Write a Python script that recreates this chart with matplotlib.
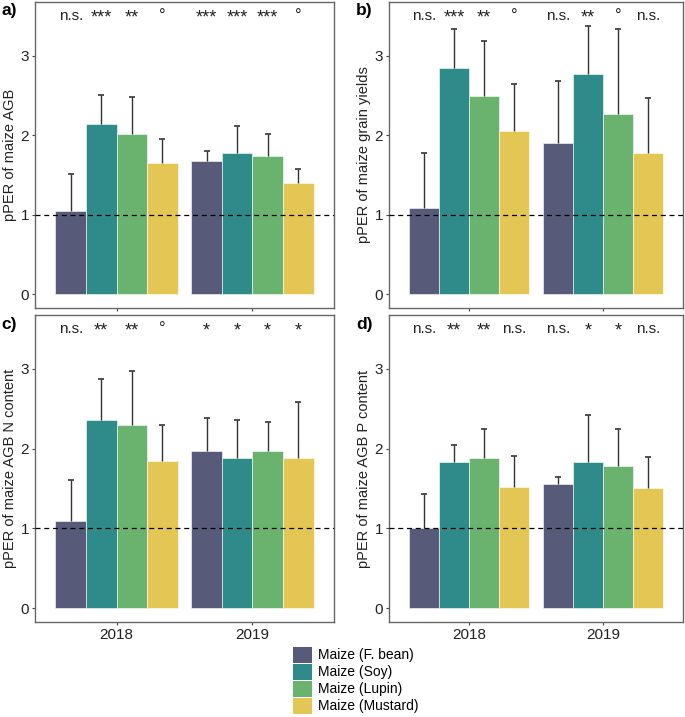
import matplotlib
matplotlib.use("Agg")
import matplotlib.pyplot as plt
from matplotlib.patches import Patch
import numpy as np

plt.rcParams['font.family'] = ['Liberation Sans', 'DejaVu Sans']

years = ["2018", "2019"]
treatments = ["Maize (F. bean)", "Maize (Soy)", "Maize (Lupin)", "Maize (Mustard)"]
colors = ['#575a78', '#2e8b8a', '#6ab36e', '#e3c653']

# mean values [treatment][year]
agb_mean = [[1.05, 1.67], [2.14, 1.77], [2.02, 1.74], [1.65, 1.40]]
agb_upper = [[1.51, 1.80], [2.50, 2.12], [2.48, 2.01], [1.95, 1.57]]
agb_sig = [["n.s.", "***"], ["***", "***"], ["**", "***"], ["°", "°"]]

grain_mean = [[1.08, 1.90], [2.85, 2.77], [2.49, 2.27], [2.05, 1.78]]
grain_upper = [[1.78, 2.68], [3.34, 3.37], [3.19, 3.33], [2.64, 2.47]]
grain_sig = [["n.s.", "n.s."], ["***", "**"], ["**", "°"], ["°", "n.s."]]

n_mean = [[1.09, 1.97], [2.36, 1.88], [2.30, 1.97], [1.85, 1.88]]
n_upper = [[1.60, 2.38], [2.87, 2.36], [2.97, 2.33], [2.30, 2.59]]
n_sig = [["n.s.", "*"], ["**", "*"], ["**", "*"], ["°", "*"]]

p_mean = [[1.00, 1.56], [1.83, 1.83], [1.88, 1.78], [1.52, 1.51]]
p_upper = [[1.43, 1.64], [2.05, 2.42], [2.24, 2.24], [1.91, 1.89]]
p_sig = [["n.s.", "n.s."], ["**", "*"], ["**", "*"], ["n.s.", "n.s."]]

panels = [
    ("a)", "pPER of maize AGB", agb_mean, agb_upper, agb_sig),
    ("b)", "pPER of maize grain yields", grain_mean, grain_upper, grain_sig),
    ("c)", "pPER of maize AGB N content", n_mean, n_upper, n_sig),
    ("d)", "pPER of maize AGB P content", p_mean, p_upper, p_sig),
]

W, H = 685, 717
fig = plt.figure(figsize=(W / 100, H / 100), dpi=100)

# axes boxes in pixels: (left, top, right, bottom)
boxes = [(35, 2, 334, 308), (389, 2, 683, 308), (35, 315, 334, 622), (389, 315, 683, 622)]
label_pos = [(1, 3), (356, 3), (1, 317), (356, 317)]

frame_col = '#666666'
bw = 0.225
for i, (lab, ylab, mean, upper, sig) in enumerate(panels):
    l, t, r, b = boxes[i]
    ax = fig.add_axes([l / W, 1 - b / H, (r - l) / W, (b - t) / H])
    xc = np.arange(1, len(years) + 1)
    for k in range(len(treatments)):
        xs = xc + (k - 1.5) * bw
        m = np.array(mean[k])
        u = np.array(upper[k])
        ax.bar(xs, m, width=bw, color=colors[k], edgecolor='#ffffff', linewidth=0.4, zorder=2)
        ax.vlines(xs, m, u, color='#333333', linewidth=1.0, zorder=3)
        ax.plot(xs, u, linestyle='none', marker='_', markersize=4, markeredgewidth=1.2,
                color='#333333', zorder=3)
        for j in range(len(years)):
            s = sig[k][j]
            if '*' in s:
                ax.text(xs[j], 3.47, s, ha='center', va='center', fontsize=13, color='#222222')
            elif s == '°':
                ax.text(xs[j], 3.5, s, ha='center', va='center', fontsize=12, color='#222222')
            else:
                ax.text(xs[j], 3.5, s, ha='center', va='center', fontsize=11, color='#222222')
    ax.axhline(1, color='black', linestyle=(0, (4, 3)), linewidth=0.9, zorder=4)
    ax.set_xlim(0.4, 2.6)
    ax.set_ylim(-0.175, 3.675)
    ax.set_yticks([0, 1, 2, 3])
    ax.set_yticklabels(['0', '1', '2', '3'])
    ax.set_xticks(xc)
    if i >= 2:
        ax.set_xticklabels(years)
    else:
        ax.set_xticklabels([])
    ax.tick_params(axis='both', labelsize=11, color='#444444', labelcolor='#222222',
                   length=2.5, width=0.8, pad=1.8)
    for s in ax.spines.values():
        s.set_color(frame_col)
        s.set_linewidth(1.0)
    ax.set_ylabel(ylab, fontsize=10.5, color='#222222', labelpad=2.5)
    fig.text(label_pos[i][0] / W, 1 - label_pos[i][1] / H, lab, fontsize=12.5, fontweight='bold',
             ha='left', va='top')

handles = [Patch(facecolor=c, edgecolor='none') for c in colors]
fig.legend(handles, treatments, loc='upper left', bbox_to_anchor=(293 / W, 1 - 647 / H),
           frameon=False, fontsize=10, handlelength=1.35, handleheight=1.35,
           labelspacing=0.1, handletextpad=0.45, borderpad=0, borderaxespad=0)

fig.savefig("out.png", dpi=100)
